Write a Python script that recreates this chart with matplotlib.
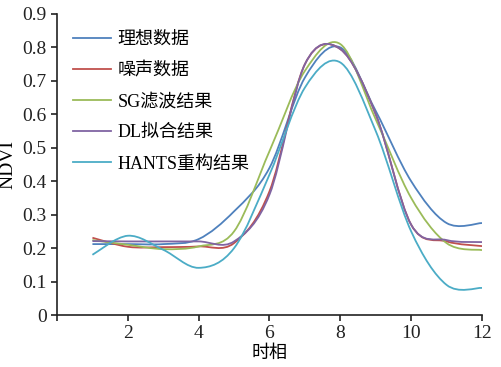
import matplotlib.pyplot as plt
from matplotlib.path import Path
from matplotlib.patches import PathPatch
from matplotlib.lines import Line2D

plt.rcParams['font.family'] = ['Liberation Serif', 'Noto Sans CJK SC']

# 时相
x = [1, 2, 3, 4, 5, 6, 7, 8, 9, 10, 11, 12]
ideal = [0.212, 0.212, 0.212, 0.227, 0.31, 0.44, 0.71, 0.80, 0.61, 0.40, 0.275, 0.275]
noisy = [0.231, 0.204, 0.203, 0.205, 0.215, 0.37, 0.75, 0.795, 0.60, 0.27, 0.22, 0.206]
sg = [0.224, 0.21, 0.197, 0.205, 0.25, 0.49, 0.73, 0.81, 0.585, 0.35, 0.215, 0.194]
dl = [0.221, 0.22, 0.22, 0.22, 0.22, 0.36, 0.75, 0.795, 0.60, 0.27, 0.224, 0.218]
hants = [0.18, 0.237, 0.195, 0.141, 0.20, 0.42, 0.68, 0.755, 0.55, 0.25, 0.09, 0.081]

labels = ["理想数据", "噪声数据", "SG滤波结果", "DL拟合结果", "HANTS重构结果"]
colors = ["#4F81BD", "#C0504D", "#9BBB59", "#8064A2", "#4BACC6"]
series = [ideal, noisy, sg, dl, hants]


def smooth_path(xs, ys):
    # Excel-style smoothed line: cubic Bezier through every point
    n = len(xs)
    verts = [(xs[0], ys[0])]
    codes = [Path.MOVETO]
    for i in range(n - 1):
        i0 = max(i - 1, 0)
        i3 = min(i + 2, n - 1)
        c1 = (xs[i] + (xs[i + 1] - xs[i0]) / 6, ys[i] + (ys[i + 1] - ys[i0]) / 6)
        c2 = (xs[i + 1] - (xs[i3] - xs[i]) / 6, ys[i + 1] - (ys[i3] - ys[i]) / 6)
        verts += [c1, c2, (xs[i + 1], ys[i + 1])]
        codes += [Path.CURVE4] * 3
    return Path(verts, codes)


fig = plt.figure(figsize=(5.02, 3.67), dpi=100)
ax = fig.add_axes([57 / 502, 52 / 367, 425 / 502, 301 / 367])

handles = []
for ys, c, lab in zip(series, colors, labels):
    ax.add_patch(PathPatch(smooth_path(x, ys), fill=False, edgecolor=c, lw=1.3))
    handles.append(Line2D([], [], color=c, lw=1.3, label=lab))

ax.set_xlim(0, 12)
ax.set_ylim(0, 0.9)
ax.set_xticks([0, 2, 4, 6, 8, 10, 12])
ax.set_xticklabels(["", "2", "4", "6", "8", "10", "12"])
ax.set_yticks([0, 0.1, 0.2, 0.3, 0.4, 0.5, 0.6, 0.7, 0.8, 0.9])
ax.set_yticklabels(["0", "0.1", "0.2", "0.3", "0.4", "0.5", "0.6", "0.7", "0.8", "0.9"])
ax.spines['top'].set_visible(False)
ax.spines['right'].set_visible(False)
for s in ['left', 'bottom']:
    ax.spines[s].set_color('#222222')
    ax.spines[s].set_linewidth(1.2)
ax.tick_params(direction='out', length=4, width=1.2, color='#222222', labelsize=14, labelcolor='#222222')
ax.set_xlabel("时相", fontsize=13, labelpad=2)
ax.set_ylabel("NDVI", fontsize=14, labelpad=4)

ax.legend(handles=handles, loc='upper left', bbox_to_anchor=(0.0, 0.997), frameon=False,
          fontsize=13, handlelength=2.1, labelspacing=0.78, handletextpad=0.35)

fig.savefig("out.png", dpi=100)
